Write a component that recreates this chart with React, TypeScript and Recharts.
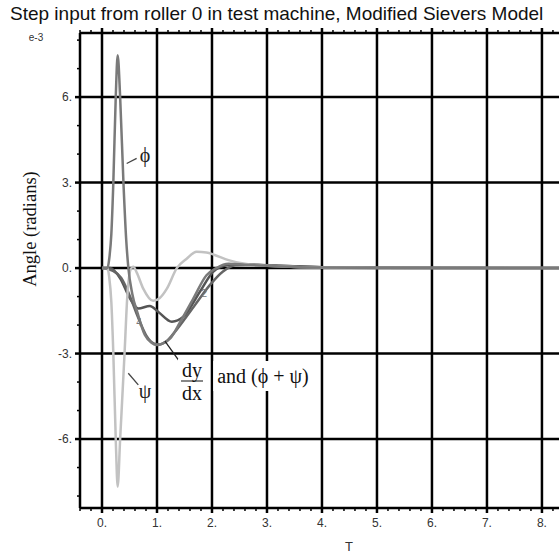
import React from "react"
import { LineChart, Line, XAxis, YAxis, ReferenceLine } from "recharts"

// time (T) and angle (e-3 radians)
const phiT = [0, 0.1, 0.13, 0.17, 0.206, 0.25, 0.285, 0.33, 0.39, 0.44, 0.48, 0.55, 0.65, 0.78, 0.9, 1.0, 1.1, 1.24, 1.42, 1.66, 1.9, 2.08, 2.3, 2.6, 3.0, 3.5, 4.0, 5.0, 8.31]
const phiV = [0, 0, 0.3, 1.2, 3.0, 6.0, 7.47, 6.0, 3.0, 1.0, 0, -0.9, -1.6, -2.35, -2.62, -2.7, -2.65, -2.47, -1.9, -1.07, -0.25, 0, 0.15, 0.12, 0.08, 0.04, 0.02, 0.005, 0]

const psiT = [0, 0.1, 0.13, 0.17, 0.206, 0.25, 0.285, 0.33, 0.41, 0.46, 0.52, 0.57, 0.63, 0.75, 0.93, 1.05, 1.18, 1.36, 1.54, 1.72, 1.9, 2.05, 2.3, 2.6, 3.0, 3.5, 4.0, 5.0, 8.31]
const psiV = [0, 0, -0.3, -1.2, -3.0, -6.0, -7.67, -6.0, -3.0, -1.0, -0.05, 0.05, -0.15, -0.72, -1.15, -1.05, -0.72, 0, 0.33, 0.57, 0.55, 0.46, 0.28, 0.15, 0.08, 0.04, 0.02, 0.005, 0]

const c4T = [0, 0.15, 0.33, 0.51, 0.66, 0.87, 1.02, 1.27, 1.48, 1.78, 2.02, 2.27, 2.6, 3.0, 3.5, 4.0, 5.0, 8.31]
const c4V = [0, 0, -0.36, -1.07, -1.42, -1.33, -1.53, -1.88, -1.71, -0.83, -0.13, 0.1, 0.13, 0.1, 0.06, 0.03, 0.01, 0]

const c2T = [0, 0.2, 0.35, 0.5, 0.65, 0.8, 0.95, 1.05, 1.15, 1.3, 1.5, 1.69, 1.96, 2.2, 2.42, 2.7, 3.2, 4.0, 5.0, 8.31]
const c2V = [0, -0.1, -0.35, -0.95, -1.7, -2.35, -2.65, -2.68, -2.6, -2.3, -1.8, -1.3, -0.6, -0.12, 0.1, 0.12, 0.08, 0.03, 0.01, 0]

const X_MAJOR = [0, 1, 2, 3, 4, 5, 6, 7, 8]
const X_MINOR = [-0.4, -0.2, 0.2, 0.4, 0.6, 0.8, 1.2, 1.4, 1.6, 1.8, 2.2, 2.4, 2.6, 2.8, 3.2, 3.4, 3.6, 3.8, 4.2, 4.4, 4.6, 4.8, 5.2, 5.4, 5.6, 5.8, 6.2, 6.4, 6.6, 6.8, 7.2, 7.4, 7.6, 7.8, 8.2]
const Y_MAJOR = [-6, -3, 0, 3, 6]
const Y_MINOR = [-8, -7, -5, -4, -2, -1, 1, 2, 4, 5, 7, 8]

const X_DOMAIN = [-0.4, 8.31]
const Y_DOMAIN = [-8.42, 8.25]

const toPoints = (ts: number[], vs: number[]) => ts.map((t, i) => ({ t, v: vs[i] }))
const X_TICKS = [...X_MINOR, ...X_MAJOR].sort((a, b) => a - b)
const Y_TICKS = [...Y_MINOR, ...Y_MAJOR].sort((a, b) => a - b)

const sans = "'Liberation Sans', Arial, sans-serif"
const serif = "'Liberation Serif', 'Times New Roman', serif"
const black = { stroke: "#000", strokeWidth: 2.5 }

// tick renderer: with tickSize/tickMargin 0 the (x, y) we get is on the axis line
const makeTick = (side: "bottom" | "top" | "left") => (props: any) => {
  const { x, y, payload } = props
  const v = payload.value
  const major = (side === "left" ? Y_MAJOR : X_MAJOR).includes(v)
  const len = major ? 5 : 3
  const sw = major ? 2.5 : 1.5
  if (side === "left") {
    return (
      <g>
        <line x1={x} x2={x - len} y1={y} y2={y} stroke="#000" strokeWidth={sw} />
        {major && (
          <text x={x - 8} y={y} dy="0.36em" textAnchor="end" fill="#333" fontSize={12} fontFamily={sans}>{`${v}.`}</text>
        )}
      </g>
    )
  }
  const dir = side === "bottom" ? 1 : -1
  return (
    <g>
      <line x1={x} x2={x} y1={y} y2={y + dir * len} stroke="#000" strokeWidth={sw} />
      {major && side === "bottom" && (
        <text x={x} y={y + 10} dy="0.71em" textAnchor="middle" fill="#333" fontSize={12} fontFamily={sans}>{`${v}.`}</text>
      )}
    </g>
  )
}

const abs = (left: number, top: number, extra: React.CSSProperties = {}): React.CSSProperties => ({
  position: "absolute",
  left,
  top,
  transform: "translate(-50%, -50%)",
  whiteSpace: "nowrap",
  lineHeight: 1,
  ...extra,
})

export default function App() {
  return (
    <div style={{ position: "absolute", left: 0, top: 0, width: 559, height: 556, background: "#fff", overflow: "hidden" }}>
      <div style={{ position: "absolute", left: 10, top: 4, fontFamily: sans, fontSize: 19, lineHeight: 1, color: "#111", whiteSpace: "nowrap" }}>
        Step input from roller 0 in test machine, Modified Sievers Model
      </div>
      <LineChart width={559} height={556} margin={{ top: 32, right: 0, bottom: 28, left: 60 }}>
        {X_MAJOR.map((v) => (
          <ReferenceLine key={`gx${v}`} xAxisId="x" yAxisId="y" x={v} stroke="#000" strokeWidth={2.5} />
        ))}
        {Y_MAJOR.map((v) => (
          <ReferenceLine key={`gy${v}`} xAxisId="x" yAxisId="y" y={v} stroke="#000" strokeWidth={2.5} />
        ))}
        <XAxis xAxisId="x" type="number" dataKey="t" domain={X_DOMAIN} allowDataOverflow ticks={X_TICKS} interval={0}
          height={20} tickSize={0} tickMargin={0} tickLine={false} axisLine={black} tick={makeTick("bottom")} />
        <XAxis xAxisId="xt" orientation="top" type="number" dataKey="t" domain={X_DOMAIN} allowDataOverflow ticks={X_TICKS} interval={0}
          height={1} tickSize={0} tickMargin={0} tickLine={false} axisLine={black} tick={makeTick("top")} />
        <YAxis yAxisId="y" type="number" domain={Y_DOMAIN} allowDataOverflow ticks={Y_TICKS} interval={0}
          width={20} tickSize={0} tickMargin={0} tickLine={false} axisLine={black} tick={makeTick("left")} />

        <Line xAxisId="x" yAxisId="y" data={toPoints(c4T, c4V)} dataKey="v" type="monotone" stroke="#555" strokeWidth={2.5} dot={false} isAnimationActive={false} />
        <Line xAxisId="x" yAxisId="y" data={toPoints(c2T, c2V)} dataKey="v" type="monotone" stroke="#666" strokeWidth={2.5} dot={false} isAnimationActive={false} />
        <Line xAxisId="x" yAxisId="y" data={toPoints(psiT, psiV)} dataKey="v" type="monotone" stroke="#c2c2c2" strokeWidth={2.5} dot={false} isAnimationActive={false} />
        <Line xAxisId="x" yAxisId="y" data={toPoints(phiT, phiV)} dataKey="v" type="monotone" stroke="#7a7a7a" strokeWidth={2.5} dot={false} isAnimationActive={false} />

        <ReferenceLine xAxisId="x" yAxisId="y" segment={[{ x: 0.449, y: 3.67 }, { x: 0.63, y: 3.85 }]} stroke="#444" strokeWidth={1.3} ifOverflow="visible" />
        <ReferenceLine xAxisId="x" yAxisId="y" segment={[{ x: 0.478, y: -3.69 }, { x: 0.66, y: -4.1 }]} stroke="#444" strokeWidth={1.3} ifOverflow="visible" />
        <ReferenceLine xAxisId="x" yAxisId="y" segment={[{ x: 1.145, y: -2.56 }, { x: 1.418, y: -3.3 }]} stroke="#222" strokeWidth={1.3} ifOverflow="visible" />
      </LineChart>

      <div style={abs(36, 38, { fontFamily: sans, fontSize: 10, color: "#333" })}>e-3</div>
      <div style={abs(30, 229, { fontFamily: serif, fontSize: 18.5, color: "#111", transform: "translate(-50%, -50%) rotate(-90deg)" })}>
        Angle (radians)
      </div>
      <div style={abs(349, 546, { fontFamily: sans, fontSize: 13, color: "#333" })}>T</div>

      <div style={abs(145, 155, { fontFamily: serif, fontSize: 20, color: "#222" })}>ϕ</div>
      <div style={abs(145, 391, { fontFamily: serif, fontSize: 20, color: "#222" })}>ψ</div>
      <div style={abs(139, 323, { fontFamily: sans, fontSize: 10, color: "#777" })}>4</div>
      <div style={abs(204, 293, { fontFamily: sans, fontSize: 11, color: "#777" })}>2</div>

      <div style={abs(192, 381, { fontFamily: serif, fontSize: 20, color: "#111", background: "#fff", display: "flex", flexDirection: "column", alignItems: "center", padding: "1px 3px" })}>
        <span style={{ borderBottom: "1px solid #111", padding: "0 1px 1px" }}>dy</span>
        <span style={{ paddingTop: 1 }}>dx</span>
      </div>
      <div style={abs(263, 376, { fontFamily: serif, fontSize: 20, color: "#111", background: "#fff", padding: "5px 4px" })}>
        and (ϕ + ψ)
      </div>
    </div>
  )
}
